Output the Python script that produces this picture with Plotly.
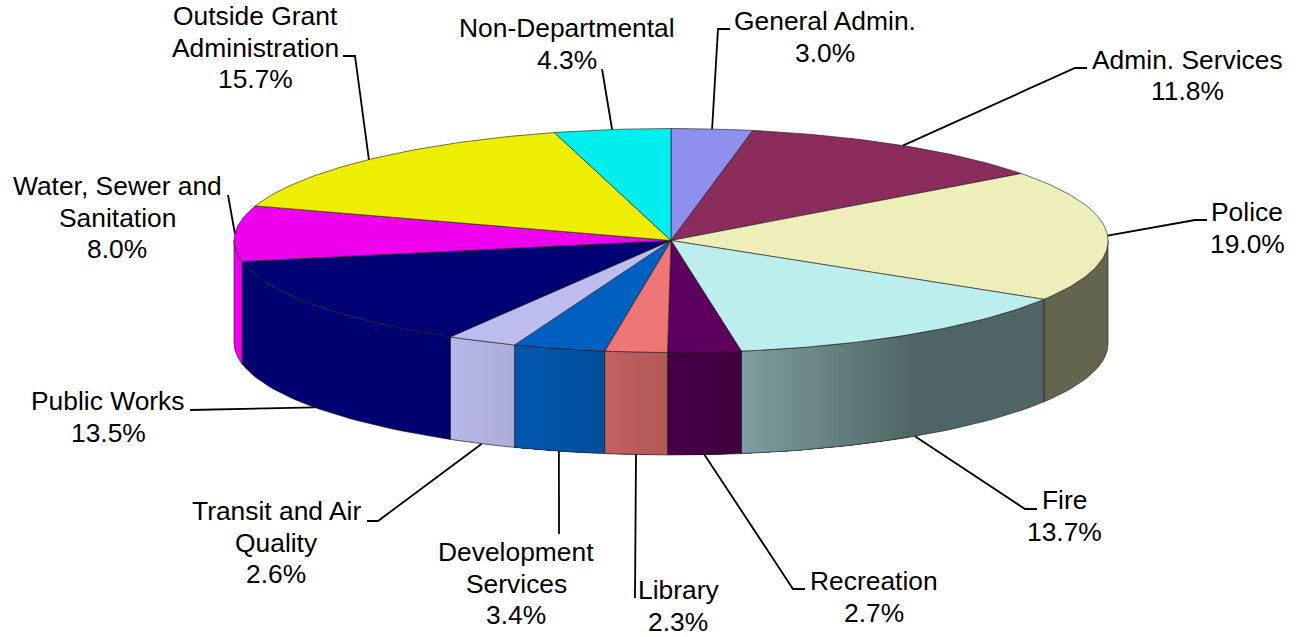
import math
import plotly.graph_objects as go

# ---- data ----
categories = [["General Admin."], ["Admin. Services"], ["Police"], ["Fire"], ["Recreation"], ["Library"],
              ["Development", "Services"], ["Transit and Air", "Quality"], ["Public Works"],
              ["Water, Sewer and", "Sanitation"], ["Outside Grant", "Administration"], ["Non-Departmental"]]
shares = [3.0, 11.8, 19.0, 13.7, 2.7, 2.3, 3.4, 2.6, 13.5, 8.0, 15.7, 4.3]
top_colors = ["#8F8FEE", "#8B2C5C", "#EEEEBB", "#BCEEEE", "#5E005E", "#EE7676",
              "#0060BF", "#BCBCEE", "#000075", "#EE00EE", "#EEEE00", "#00EEEE"]

# ---- layout of the drawing (pixel-like axis) ----
W, H = 1298, 637
CX, CY, RX, RY, DEPTH, SKEW = 671, 240.5, 437, 112, 102.5, 2
LINE_GAP = 31.7
label_pos = [(825, 21), (1187, 59.5), (1247, 212), (1064, 500), (874, 581), (678, 590),
             (516, 552), (276, 511), (108, 401), (117, 186), (255, 16), (567, 28)]
elbows = [[(718, 29), (730, 29)], [(1075, 68), (1087, 68)], [(1195, 220), (1207, 220)],
          [(1025, 509), (1037, 509)], [(793, 589), (805, 589)], [(635, 598)],
          [(559, 534)], [(378, 521), (367, 521)], [(190, 410)],
          [(228, 195)], [(355, 56), (343, 56)], [(602, 69)]]
EDGE = "rgba(30,30,30,0.7)"


def pt(theta, drop=0.0):
    r = math.radians(theta)
    return CX + RX * math.sin(r) + SKEW * max(0.0, -math.cos(r)), CY - RY * math.cos(r) + drop


def shade(x):
    if x <= 450:
        return 0.97
    if x <= 740:
        return 0.98 + (x - 450) * (0.67 - 0.98) / 290
    if x <= 920:
        return 0.67 + (x - 740) * (0.42 - 0.67) / 180
    return 0.42


def scaled(color, f):
    c = [int(color[i:i + 2], 16) for i in (1, 3, 5)]
    return "rgb(%d,%d,%d)" % tuple(round(v * f) for v in c)


edges = [0.0]
for s in shares:
    edges.append(edges[-1] + s)
total = edges[-1]
edges = [e * 360 / total for e in edges]

fig = go.Figure()


def poly(xs, ys, fill, line=None, width=0.0):
    fig.add_trace(go.Scatter(x=xs, y=ys, mode="lines", fill="toself", fillcolor=fill,
                             line=dict(color=line or fill, width=width),
                             hoverinfo="skip", showlegend=False))


def wall(t0, t1):
    n = max(2, int((t1 - t0) / 1.5))
    steps = [t0 + (t1 - t0) * k / n for k in range(n + 1)]
    xs = [pt(t)[0] for t in steps] + [pt(t, DEPTH)[0] for t in reversed(steps)]
    ys = [pt(t)[1] for t in steps] + [pt(t, DEPTH)[1] for t in reversed(steps)]
    return xs + xs[:1], ys + ys[:1]


# extruded side walls: painted in layers, each covering the rest of the slice, so no seams show
for i, col in enumerate(top_colors):
    a, b = max(edges[i], 90), min(edges[i + 1], 270)
    if a >= b:
        continue
    n = max(1, int((b - a) / 0.7))
    last = None
    for k in range(n):
        t0 = a + (b - a) * k / n
        t1 = a + (b - a) * (k + 1) / n
        f = 1.0 if col == "#EE00EE" else shade((pt(t0)[0] + pt(t1)[0]) / 2)
        c = scaled(col, f)
        if c == last:
            continue
        last = c
        xs, ys = wall(t0, b)
        poly(xs, ys, c)
    xs, ys = wall(a, b)
    fig.add_trace(go.Scatter(x=xs, y=ys, mode="lines", line=dict(color=EDGE, width=0.9),
                             hoverinfo="skip", showlegend=False))

# top faces
for i, col in enumerate(top_colors):
    a, b = edges[i], edges[i + 1]
    n = max(6, int(b - a))
    steps = [a + (b - a) * k / n for k in range(n + 1)]
    xs = [CX] + [pt(t)[0] for t in steps] + [CX]
    ys = [CY] + [pt(t)[1] for t in steps] + [CY]
    poly(xs, ys, col, EDGE, 0.9)

# leader lines and labels
shapes = []
annotations = []
for i, lines in enumerate(categories):
    mid = (edges[i] + edges[i + 1]) / 2
    drop = DEPTH if 90 < mid < 270 else 0
    pts = [pt(mid, drop)] + elbows[i]
    path = "M " + " L ".join("%.1f %.1f" % p for p in pts)
    shapes.append(dict(type="path", path=path, xref="x", yref="y",
                       line=dict(color="black", width=1.8)))
    lx, ly = label_pos[i]
    for j, text in enumerate(lines + ["%.1f%%" % shares[i]]):
        annotations.append(dict(x=lx, y=ly + j * LINE_GAP, xref="x", yref="y", showarrow=False,
                                text=text, align="center", xanchor="center", yanchor="middle",
                                font=dict(family="Liberation Sans", size=26.4, color="black")))

fig.update_layout(
    width=W, height=H, margin=dict(l=0, r=0, t=0, b=0),
    paper_bgcolor="white", plot_bgcolor="white", showlegend=False,
    xaxis=dict(range=[0, W], visible=False, fixedrange=True),
    yaxis=dict(range=[H, 0], visible=False, fixedrange=True),
    shapes=shapes, annotations=annotations,
)
fig.write_html("out.html", config={"displayModeBar": False},
               post_script="document.body.style.margin='0';")
